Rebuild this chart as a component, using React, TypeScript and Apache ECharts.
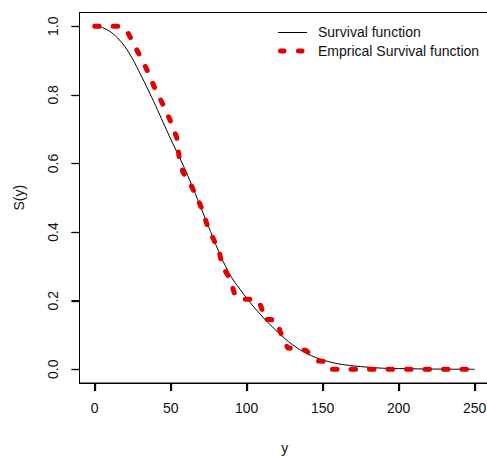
import React, { useEffect, useRef } from "react";
import * as echarts from "echarts";

// Theoretical survival function S(y)
const survX = [0, 5, 10, 15, 20, 25, 30, 35, 40, 45, 50, 55, 60, 65, 70, 75, 80, 85, 90, 95, 100, 105, 110, 115, 120, 125, 130, 135, 140, 145, 150, 160, 170, 180, 190, 200, 225, 250];
const survS = [1.0, 0.996, 0.985, 0.966, 0.94, 0.904, 0.861, 0.816, 0.769, 0.72, 0.671, 0.625, 0.577, 0.525, 0.47, 0.415, 0.36, 0.31, 0.268, 0.237, 0.207, 0.18, 0.155, 0.132, 0.11, 0.09, 0.072, 0.057, 0.045, 0.035, 0.027, 0.016, 0.01, 0.006, 0.003, 0.002, 0.0005, 0];

const empX = [0, 18, 22, 26, 31, 35, 39, 43, 47, 51, 54, 55.5, 58, 63, 67, 71, 74, 78, 82, 84, 89, 92, 96, 104, 108, 110, 111, 116, 120, 122, 125, 127, 134, 139, 144, 147, 151, 154, 245];
const empS = [1, 1, 0.98, 0.945, 0.903, 0.867, 0.825, 0.789, 0.753, 0.711, 0.675, 0.62, 0.575, 0.541, 0.502, 0.464, 0.42, 0.381, 0.342, 0.3, 0.264, 0.22, 0.204, 0.204, 0.2, 0.175, 0.145, 0.145, 0.14, 0.11, 0.08, 0.062, 0.06, 0.055, 0.035, 0.024, 0.023, 0, 0];

const seriesNames = ["Survival function", "Emprical Survival function"];
const xTickValues = [0, 50, 100, 150, 200, 250];
const yTickValues = [0, 0.2, 0.4, 0.6, 0.8, 1.0];
const xRange = [-10, 260];
const yRange = [-0.04, 1.04];

const FONT = "Liberation Sans, Arial, sans-serif";
const RED = "#e50000";
const TICK_LEN = 8;

export default function App() {
  const ref = useRef<HTMLDivElement>(null);
  useEffect(() => {
    if (!ref.current) return;
    const chart = echarts.init(ref.current, undefined, { renderer: "svg" });
    chart.setOption({
      animation: false,
      backgroundColor: "#fff",
      grid: {
        left: 79.5,
        top: 12.5,
        width: 410.4,
        height: 370.5,
        outerBoundsMode: "none",
      },
      graphic: [
        {
          type: "rect",
          shape: { x: 79.5, y: 12.5, width: 420, height: 370.5 },
          style: { fill: "none", stroke: "#000", lineWidth: 1 },
          silent: true,
          z: 10,
        },
        {
          type: "line",
          shape: { x1: 278, y1: 32.5, x2: 307, y2: 32.5 },
          style: { stroke: "#000", lineWidth: 1 },
          silent: true,
        },
        {
          type: "line",
          shape: { x1: 280.5, y1: 51, x2: 307, y2: 51 },
          style: { stroke: RED, lineWidth: 5, lineDash: [3.5, 14.5], lineCap: "round" },
          silent: true,
        },
        {
          type: "text",
          left: 318,
          top: 25,
          style: { text: seriesNames[0], font: `14px ${FONT}`, fill: "#111" },
          silent: true,
        },
        {
          type: "text",
          left: 318,
          top: 44,
          style: { text: seriesNames[1], font: `14px ${FONT}`, fill: "#111" },
          silent: true,
        },
      ],
      xAxis: {
        type: "value",
        min: xRange[0],
        max: xRange[1],
        name: "y",
        nameLocation: "middle",
        nameGap: 58,
        nameTextStyle: { fontFamily: FONT, fontSize: 14, color: "#111" },
        axisLine: { show: true, onZero: false, lineStyle: { color: "#000", width: 1 } },
        axisTick: {
          show: true,
          length: TICK_LEN,
          customValues: xTickValues,
          lineStyle: { color: "#000", width: 1 },
        },
        axisLabel: {
          fontFamily: FONT,
          fontSize: 14,
          color: "#111",
          margin: 18,
          customValues: xTickValues,
        },
        splitLine: { show: false },
      },
      yAxis: {
        type: "value",
        min: yRange[0],
        max: yRange[1],
        name: "S(y)",
        nameLocation: "middle",
        nameGap: 54,
        nameTextStyle: { fontFamily: FONT, fontSize: 14, color: "#111" },
        axisLine: { show: true, onZero: false, lineStyle: { color: "#000", width: 1 } },
        axisTick: {
          show: true,
          length: TICK_LEN,
          customValues: yTickValues,
          lineStyle: { color: "#000", width: 1 },
        },
        axisLabel: {
          fontFamily: FONT,
          fontSize: 14,
          color: "#111",
          rotate: 90,
          margin: 20,
          customValues: yTickValues,
          formatter: (v: number) => v.toFixed(1),
        },
        splitLine: { show: false },
      },
      series: [
        {
          name: seriesNames[0],
          type: "line",
          data: survX.map((x, i) => [x, survS[i]]),
          symbol: "none",
          smooth: 0.3,
          lineStyle: { color: "#000", width: 1 },
          itemStyle: { color: "#000" },
          z: 2,
        },
        {
          name: seriesNames[1],
          type: "line",
          data: empX.map((x, i) => [x, empS[i]]),
          symbol: "none",
          lineStyle: { color: RED, width: 5, type: [4.5, 14], cap: "round", join: "round" },
          itemStyle: { color: RED },
          z: 3,
        },
        {
          type: "custom",
          silent: true,
          clip: false,
          z: 11,
          data: xTickValues.map((v) => [v, yRange[0]]),
          renderItem: (_params: any, api: any) => {
            const p = api.coord([api.value(0), api.value(1)]);
            const x = Math.round(p[0]) + 0.5;
            return {
              type: "line",
              shape: { x1: x, y1: p[1], x2: x, y2: p[1] + TICK_LEN },
              style: { stroke: "#000", lineWidth: 1.3 },
            };
          },
        },
        {
          type: "custom",
          silent: true,
          clip: false,
          z: 11,
          data: yTickValues.map((v) => [xRange[0], v]),
          renderItem: (_params: any, api: any) => {
            const p = api.coord([api.value(0), api.value(1)]);
            const y = Math.round(p[1]) + 0.5;
            return {
              type: "line",
              shape: { x1: p[0] - TICK_LEN, y1: y, x2: p[0], y2: y },
              style: { stroke: "#000", lineWidth: 1.3 },
            };
          },
        },
      ],
    });
    return () => chart.dispose();
  }, []);
  return (
    <div
      ref={ref}
      style={{ position: "fixed", left: 0, top: 0, width: 487, height: 457, background: "#fff" }}
    />
  );
}
